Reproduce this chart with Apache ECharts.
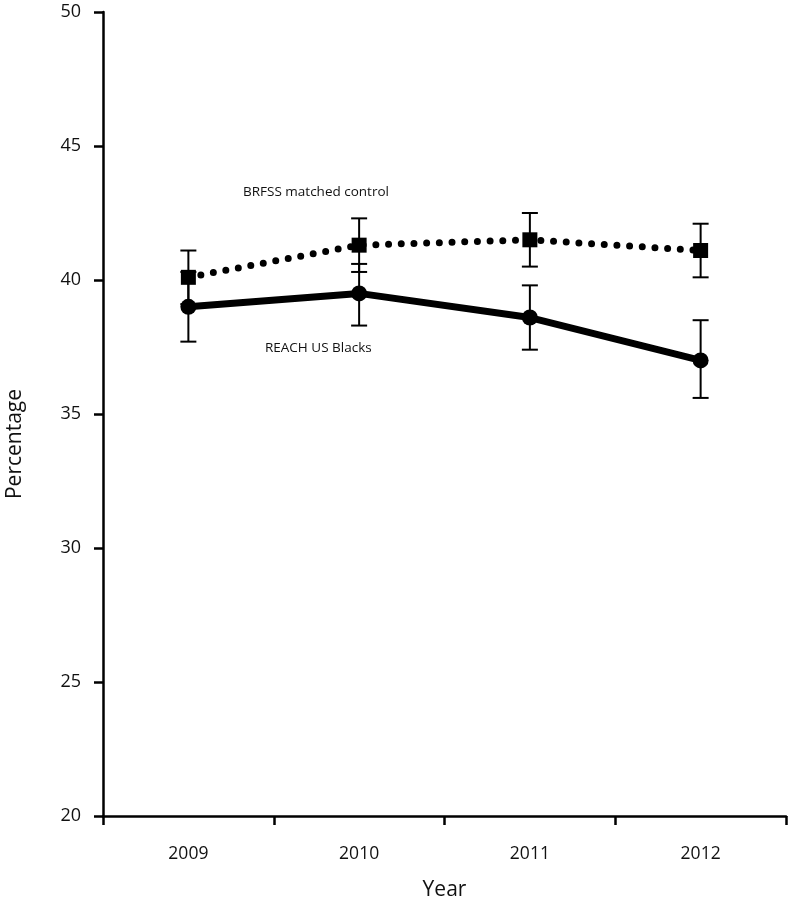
<!DOCTYPE html>
<html>
<head>
<meta charset="utf-8">
<script src="https://cdn.jsdelivr.net/npm/echarts@6/dist/echarts.min.js"></script>
<style>html,body{margin:0;padding:0;background:#fff}#c{width:790px;height:905px}</style>
</head>
<body>
<div id="c"></div>
<script>
var years = ['2009', '2010', '2011', '2012'];
var yTicks = [20, 25, 30, 35, 40, 45, 50];
var reach = [39.0, 39.5, 38.6, 37.0];
var reachLow = [37.7, 38.3, 37.4, 35.6];
var reachHigh = [40.3, 40.6, 39.8, 38.5];
var brfss = [40.1, 41.3, 41.5, 41.1];
var brfssLow = [39.1, 40.3, 40.5, 40.1];
var brfssHigh = [41.1, 42.3, 42.5, 42.1];

var FONT = '"Open Sans", "Noto Sans", sans-serif';

function errData(low, high) {
  return years.map(function (y, i) { return [i, low[i], high[i]]; });
}
function renderErr(params, api) {
  var x = api.value(0);
  var lo = api.coord([x, api.value(1)]);
  var hi = api.coord([x, api.value(2)]);
  var hw = 8;
  var st = { stroke: '#000', lineWidth: 2 };
  return {
    type: 'group',
    children: [
      { type: 'line', shape: { x1: lo[0], y1: lo[1], x2: hi[0], y2: hi[1] }, style: st },
      { type: 'line', shape: { x1: lo[0] - hw, y1: lo[1], x2: lo[0] + hw, y2: lo[1] }, style: st },
      { type: 'line', shape: { x1: hi[0] - hw, y1: hi[1], x2: hi[0] + hw, y2: hi[1] }, style: st }
    ]
  };
}

var chart = echarts.init(document.getElementById('c'));
chart.setOption({
  backgroundColor: '#fff',
  animation: false,
  grid: { left: 103, right: 4, top: 12, bottom: 89, containLabel: false, outerBoundsMode: 'none' },
  xAxis: {
    type: 'category',
    data: years,
    boundaryGap: true,
    name: 'Year',
    nameLocation: 'middle',
    nameGap: 64,
    nameTextStyle: { fontFamily: FONT, fontSize: 21, color: '#111' },
    axisLine: { lineStyle: { color: '#000', width: 2.5 } },
    axisTick: { show: true, length: 9, lineStyle: { color: '#000', width: 2.5 }, alignWithLabel: false },
    axisLabel: { fontFamily: FONT, fontSize: 17.5, color: '#111', margin: 29 },
    splitLine: { show: false }
  },
  yAxis: {
    type: 'value',
    min: yTicks[0],
    max: yTicks[yTicks.length - 1],
    interval: 5,
    name: 'Percentage',
    nameLocation: 'middle',
    nameGap: 77,
    nameRotate: 90,
    nameTextStyle: { fontFamily: FONT, fontSize: 21, color: '#111', padding: [0, 60, 0, 0] },
    axisLine: { show: true, lineStyle: { color: '#000', width: 2.5 } },
    axisTick: { show: true, length: 9, lineStyle: { color: '#000', width: 2.5 } },
    axisLabel: { fontFamily: FONT, fontSize: 18, color: '#111', margin: 22 },
    splitLine: { show: false }
  },
  graphic: [
    { type: 'text', left: 243, top: 185, style: { text: 'BRFSS matched control', fontFamily: FONT, fontSize: 13.5, fill: '#111' } },
    { type: 'text', left: 265, top: 341, style: { text: 'REACH US Blacks', fontFamily: FONT, fontSize: 13.5, fill: '#111' } }
  ],
  series: [
    {
      name: 'BRFSS matched control',
      type: 'line',
      data: brfss,
      symbol: 'rect',
      symbolSize: 15,
      itemStyle: { color: '#000' },
      lineStyle: { color: '#000', width: 7, type: [0, 12.7], cap: 'round' },
      z: 3
    },
    {
      name: 'REACH US Blacks',
      type: 'line',
      data: reach,
      symbol: 'circle',
      symbolSize: 16,
      itemStyle: { color: '#000' },
      lineStyle: { color: '#000', width: 7 },
      z: 3
    },
    { type: 'custom', renderItem: renderErr, data: errData(brfssLow, brfssHigh), z: 4 },
    { type: 'custom', renderItem: renderErr, data: errData(reachLow, reachHigh), z: 4 }
  ]
});
</script>
</body>
</html>
